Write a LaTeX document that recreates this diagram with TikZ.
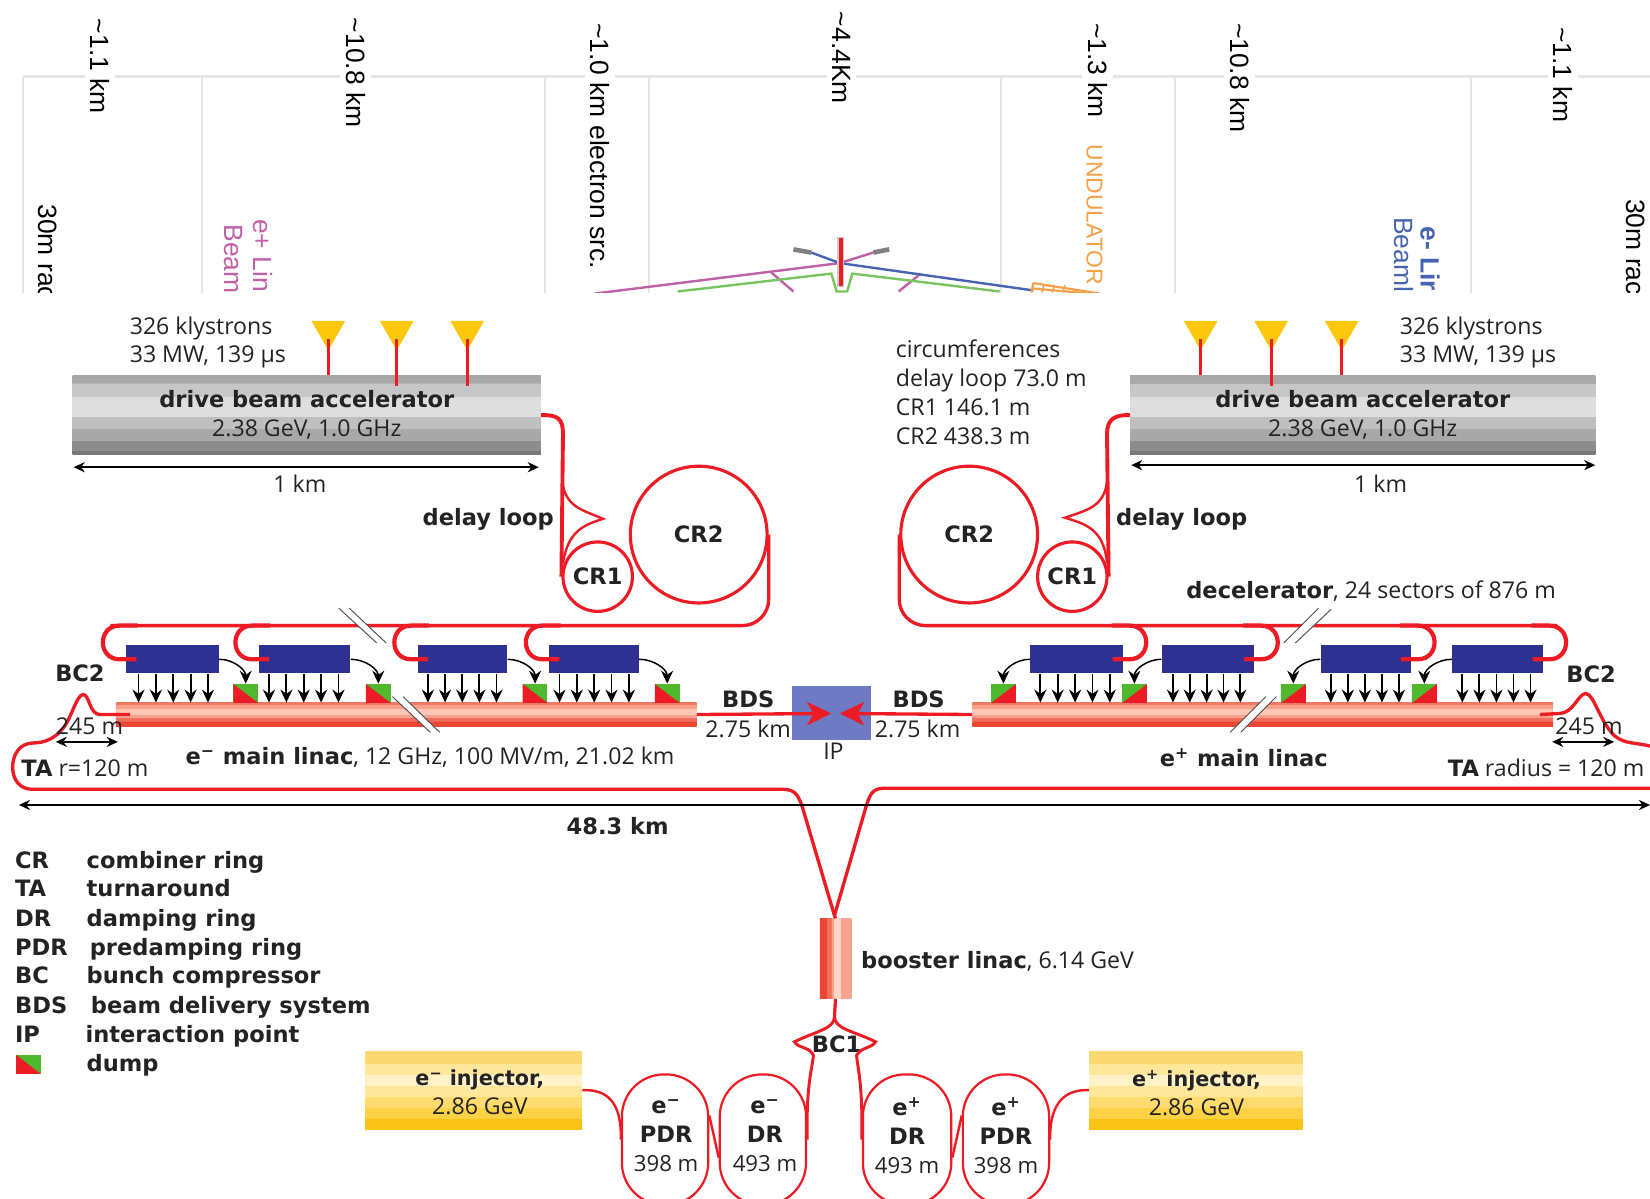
\documentclass[tikz,border=0pt]{standalone}
\usepackage{fontspec}
\setmainfont{Open Sans}
\newfontfamily\topfont{Liberation Sans}
\newfontfamily\strongfont{DejaVu Sans}
\usetikzlibrary{arrows.meta,calc,shapes.geometric}
\definecolor{beamred}{RGB}{237,28,36}
\definecolor{sectorblue}{RGB}{46,49,146}
\definecolor{dumpgreen}{RGB}{80,184,45}
\definecolor{klystroncolor}{RGB}{253,199,12}
\definecolor{ipcolor}{RGB}{110,123,196}
\definecolor{gridgrey}{RGB}{229,229,229}
\definecolor{textgrey}{RGB}{35,35,35}
\definecolor{pinkline}{RGB}{192,96,168}
\definecolor{greenline}{RGB}{120,196,96}
\definecolor{blueline}{RGB}{70,100,175}
\definecolor{orangeline}{RGB}{245,160,70}
\pgfdeclareverticalshading{greybands}{100bp}{
    gray(0bp)=(.47); gray(27.5bp)=(.47); gray(27.51bp)=(.55); gray(34bp)=(.55);
    gray(34.01bp)=(.66); gray(41.5bp)=(.66); gray(41.51bp)=(.75); gray(49bp)=(.75);
    gray(49.01bp)=(.87); gray(62bp)=(.87); gray(62.01bp)=(.78); gray(70.3bp)=(.78);
    gray(70.31bp)=(.66); gray(100bp)=(.66)}
\pgfdeclareverticalshading{yellowbands}{100bp}{
    rgb(0bp)=(.98,.76,.08); rgb(32bp)=(.98,.76,.08); rgb(32.01bp)=(.99,.82,.27); rgb(39bp)=(.99,.82,.27);
    rgb(39.01bp)=(1,.86,.44); rgb(46bp)=(1,.86,.44); rgb(46.01bp)=(1,.91,.61); rgb(53bp)=(1,.91,.61);
    rgb(53.01bp)=(1,.95,.78); rgb(60bp)=(1,.95,.78); rgb(60.01bp)=(1,.91,.61); rgb(67bp)=(1,.91,.61);
    rgb(67.01bp)=(.99,.85,.44); rgb(100bp)=(.99,.85,.44)}
\pgfdeclareverticalshading{linacbands}{100bp}{
    rgb(0bp)=(.93,.27,.2); rgb(36bp)=(.93,.27,.2); rgb(36.01bp)=(.95,.43,.36); rgb(44bp)=(.95,.43,.36);
    rgb(44.01bp)=(.98,.63,.55); rgb(51bp)=(.98,.63,.55); rgb(51.01bp)=(.99,.78,.71); rgb(62bp)=(.99,.78,.71);
    rgb(62.01bp)=(.98,.63,.55); rgb(71bp)=(.98,.63,.55); rgb(71.01bp)=(.95,.47,.4); rgb(100bp)=(.95,.47,.4)}
\pgfdeclarehorizontalshading{boosterbands}{100bp}{
    rgb(0bp)=(.93,.27,.2); rgb(36bp)=(.93,.27,.2); rgb(36.01bp)=(.95,.43,.36); rgb(43bp)=(.95,.43,.36);
    rgb(43.01bp)=(.98,.63,.55); rgb(47bp)=(.98,.63,.55); rgb(47.01bp)=(.99,.84,.78); rgb(58bp)=(.99,.84,.78);
    rgb(58.01bp)=(.97,.64,.56); rgb(100bp)=(.97,.64,.56)}
\newcommand{\strongtext}{\strongfont\bfseries\fontsize{12.2}{15.8}\selectfont}
\tikzset{
    plainlabel/.style={inner sep=0pt, text=textgrey, align=center, font=\fontsize{12.5}{15.6}\selectfont},
    strong/.style={plainlabel, font=\strongtext},
    toplabel/.style={rotate=-90, fill=white, inner xsep=1pt, inner ysep=3pt, text=black, font=\topfont\fontsize{14.3}{16}\selectfont},
    sidelabel/.style={rotate=-90, inner sep=0pt, anchor=west, font=\topfont\fontsize{14.3}{16}\selectfont},
    gridline/.style={draw=gridgrey, line width=1.1pt},
    sketchline/.style={line width=1.3pt},
    drivebox/.style={shade, shading=greybands, minimum width=8.9cm, minimum height=1.5cm, inner sep=0pt, align=center, text=textgrey, font=\fontsize{12.5}{15.8}\selectfont},
    injectorbox/.style={shade, shading=yellowbands, minimum width=4.12cm, minimum height=1.48cm, inner sep=0pt},
    sectorbox/.style={fill=sectorblue, minimum height=0.54cm, inner sep=0pt},
    linac/.style={shade, shading=linacbands, minimum height=0.44cm, inner sep=0pt},
    booster/.style={shade, shading=boosterbands, minimum width=0.6cm, minimum height=1.52cm, inner sep=0pt},
    dumpE/.style={fill=dumpgreen, minimum width=0.47cm, minimum height=0.36cm, inner sep=0pt,
        path picture={\fill[beamred] (path picture bounding box.north west) -- (path picture bounding box.south east) -- (path picture bounding box.south west) -- cycle;}},
    dumpP/.style={fill=beamred, minimum width=0.47cm, minimum height=0.36cm, inner sep=0pt,
        path picture={\fill[dumpgreen] (path picture bounding box.north west) -- (path picture bounding box.north east) -- (path picture bounding box.south west) -- cycle;}},
    beam/.style={draw=beamred, line width=1.8pt},
    feed/.style={draw=beamred, line width=2.3pt, looseness=1.7},
    thinbeam/.style={draw=beamred, line width=1.3pt},
    ring/.style={circle, draw=beamred, line width=1.7pt, inner sep=0pt, text=textgrey, font=\strongtext},
    dampring/.style={rectangle, rounded corners=0.8cm, draw=beamred, line width=1.2pt, minimum height=2.48cm, inner sep=0pt},
    stem/.style={draw=beamred, line width=1.6pt},
    klystron/.style={fill=klystroncolor},
    kick/.style={-{Stealth[length=7pt,width=6.5pt]}, draw=black, line width=1pt},
    dimarrow/.style={{Stealth[length=6pt,width=5.5pt]}-{Stealth[length=6pt,width=5.5pt]}, draw=black, line width=0.8pt},
    breakmark/.style={draw=black!70, line width=0.5pt}
}
\newcommand{\eminus}{e\textsuperscript{−}}
\newcommand{\eplus}{e\textsuperscript{+}}
\begin{document}
\begin{tikzpicture}[x=0.02cm,y=-0.02cm]
    \useasboundingbox (0,0) rectangle (1568,1139);
    \clip (0,0) rectangle (1568,1139);

    % Tunnel sketch at the top
    \begin{scope}
        \clip (0,0) rectangle (1568,278);
        \draw[gridline, line width=1.5pt] (22,73) -- (1568,73);
        \foreach \x in {22,192,518,617,951,1117,1398}
            \draw[gridline] (\x,73) -- (\x,278);
        \draw[pinkline, sketchline] (565,279) -- (798,250) -- (830,240);
        \draw[pinkline, sketchline] (733,259) -- (754,277);
        \draw[pinkline, sketchline] (875,260) -- (854,277);
        \draw[greenline, sketchline] (644,277) -- (790,260) -- (795,277) -- (805,277) -- (810,260) -- (950,277);
        \draw[blueline, sketchline] (771,240) -- (798,250) -- (982,276);
        \draw[gray, line width=2.5pt] (754,237) -- (771,240);
        \draw[gray, line width=2.5pt] (830,240) -- (845,237);
        \draw[gray!40, line width=3.6pt] (799,225) -- (799,273);
        \draw[beamred, line width=2.2pt] (799,226) -- (799,272);
        \draw[orangeline, line width=1.2pt] (982,269) -- (1045,279);
        \draw[orangeline, line width=1.2pt] (982,269) -- (980,278);
        \draw[orangeline, line width=1.2pt] (981,274) -- (1035,279);
        \foreach \x in {992,1002,1012}
            \draw[orangeline, line width=0.8pt] (\x,271) -- (\x-2,278);
        % Lengths
        \node[toplabel] (lenA) at (95,63) {\textasciitilde1.1 km};
        \node[toplabel] (lenB) at (338,69) {\textasciitilde10.8 km};
        \node[toplabel] (lenC) at (570,139) {\textasciitilde1.0 km electron src.};
        \node[toplabel] (lenD) at (800,55) {\textasciitilde4.4Km};
        \node[toplabel] (lenE) at (1043,67) {\textasciitilde1.3 km};
        \node[toplabel] (lenF) at (1178,74) {\textasciitilde10.8 km};
        \node[toplabel] (lenG) at (1485,71) {\textasciitilde1.1 km};
        \node[sidelabel] (radL) at (45,194) {30m rac};
        \node[sidelabel] (radR) at (1554,189) {30m rac};
        \node[sidelabel, text=pinkline] (linP) at (250,208) {e+ Lin};
        \node[sidelabel, text=pinkline] (beaP) at (222,213) {Beam};
        \node[sidelabel, text=orangeline, font=\topfont\fontsize{12.4}{14}\selectfont] (und) at (1040,137) {UNDULATOR};
        \node[sidelabel, text=blueline, font=\topfont\fontsize{14.3}{16}\selectfont\bfseries] (linE) at (1359,215) {e- Lir};
        \node[sidelabel, text=blueline] (beaE) at (1334,206) {Beaml};
    \end{scope}

    % Drive beam
    \node[drivebox] (drivebeamL) at (291.5,394.5) {{\strongtext drive beam accelerator}\\2.38 GeV, 1.0 GHz};
    \node[drivebox, minimum width=8.84cm] (drivebeamR) at (1295,394.5) {{\strongtext drive beam accelerator}\\2.38 GeV, 1.0 GHz};
    \foreach \n/\x/\e in {L1/312/0,L2/377/10,L3/444/10,R1/1141/0,R2/1208/10,R3/1275/0}{
        \coordinate (kly\n) at (\x,322);
        \fill[klystron] (\x-16,305) -- (\x+16,305) -- (\x,333) -- cycle;
        \draw[stem] (kly\n) -- ($(kly\n |- drivebeamL.north)+(0,\e)$);
    }
    \node[plainlabel, anchor=west, align=left] (klystextL) at (123,325.5) {326 klystrons\\33 MW, 139 µs};
    \node[plainlabel, anchor=west, align=left] (klystextR) at (1330,325.5) {326 klystrons\\33 MW, 139 µs};
    \node[plainlabel, anchor=west, align=left] (circum) at (851,373) {circumferences\\delay loop 73.0 m\\CR1 146.1 m\\CR2 438.3 m};

    % One km arrows
    \coordinate (oneLa) at (70,444);
    \coordinate (oneLb) at (512,444);
    \coordinate (oneRa) at (1075,442);
    \coordinate (oneRb) at (1516,442);
    \draw[dimarrow] (oneLa) -- (oneLb);
    \draw[dimarrow] (oneRa) -- (oneRb);
    \node[plainlabel] (oneL) at (285,460) {1 km};
    \node[plainlabel] (oneR) at (1312,460) {1 km};

    % Combiner rings
    \node[ring, minimum size=1.32cm] (crL1) at (568,548) {CR1};
    \node[ring, minimum size=2.6cm] (crL2) at (664,508) {CR2};
    \node[ring, minimum size=1.32cm] (crR1) at (1019,548) {CR1};
    \node[ring, minimum size=2.6cm] (crR2) at (921,508) {CR2};
    \coordinate (delayL) at (573,493);
    \coordinate (delayR) at (1012,492);
    \draw[beam, line width=2.1pt] (drivebeamL.east) .. controls (530,394) and (535,398) .. (535,412) -- (crL1.west);
    \draw[beam, line width=2.1pt] (drivebeamR.west) .. controls (1060,394) and (1052,398) .. (1052,412) -- (crR1.east);
    \draw[thinbeam] (535,462) .. controls (540,483) and (555,485) .. (delayL) .. controls (555,499) and (540,504) .. (535,535);
    \draw[thinbeam] (1052,458) .. controls (1049,482) and (1032,485) .. (delayR) .. controls (1032,498) and (1049,503) .. (1052,535);
    \node[strong] (delaytextL) at (464,494) {delay loop};
    \node[strong] (delaytextR) at (1123,494) {delay loop};

    % Decelerator sectors
    \node[sectorbox, minimum width=1.76cm] (sectorL1) at (164,626.5) {};
    \node[sectorbox, minimum width=1.74cm] (sectorL2) at (289.5,626.5) {};
    \node[sectorbox, minimum width=1.70cm] (sectorL3) at (439.5,626.5) {};
    \node[sectorbox, minimum width=1.70cm] (sectorL4) at (564.5,626.5) {};
    \node[sectorbox, minimum width=1.76cm] (sectorR1) at (1023,626.5) {};
    \node[sectorbox, minimum width=1.76cm] (sectorR2) at (1148,626.5) {};
    \node[sectorbox, minimum width=1.72cm] (sectorR3) at (1298,626.5) {};
    \node[sectorbox, minimum width=1.72cm] (sectorR4) at (1423,626.5) {};

    % Main linacs
    \node[linac, minimum width=11.04cm] (linacL) at (386,679) {};
    \node[linac, minimum width=11.04cm] (linacR) at (1200,679) {};

    % Dumps
    \node[dumpE] (dumpL1) at (233.5,659) {};
    \node[dumpE] (dumpL2) at (359.5,659) {};
    \node[dumpE] (dumpL3) at (508.5,659) {};
    \node[dumpE] (dumpL4) at (634,659) {};
    \node[dumpP] (dumpR1) at (953.5,659) {};
    \node[dumpP] (dumpR2) at (1078,659) {};
    \node[dumpP] (dumpR3) at (1229,659) {};
    \node[dumpP] (dumpR4) at (1353.5,659) {};

    % Power extraction arrows
    \foreach \n/\off/\st in {L1/12/16.5,L2/10/16.5,L3/10/16.3,L4/10/16.5,R1/10/16.5,R2/11/16,R3/10/16.2,R4/10/16.2}{
        \foreach \k in {0,...,4}{
            \coordinate (top) at ($(sector\n.south west)+(\off+\st*\k,0)$);
            \draw[kick] (top) -- (top |- linacL.north);
        }
    }
    \foreach \n in {1,...,4}{
        \draw[kick, line width=0.8pt] (sectorL\n.east) to[out=0,in=90] (dumpL\n.north);
        \draw[kick, line width=0.8pt] (sectorR\n.west) to[out=180,in=90] (dumpR\n.north);
    }

    % Feed lines
    \coordinate (rowL) at (105,594.5);
    \coordinate (rowR) at (1480,594.5);
    \draw[beam, rounded corners=0.5cm] (crL2.east) |- (rowL);
    \draw[beam, rounded corners=0.5cm] (crR2.west) |- (rowR);
    \foreach \n in {1,...,4}{
        \draw[feed] ($(sectorL\n.west)+(10,0)$) -- ++(-16,0) to[out=180,in=180] ++(0,-32) -- ++(17,0);
        \draw[feed] ($(sectorR\n.east)+(-10,0)$) -- ++(16,0) to[out=0,in=0] ++(0,-32) -- ++(-17,0);
    }

    % Break marks
    \foreach \a/\b/\c/\d/\e/\f/\g/\h/\cn in {322/578/358/611/332/578/367/611/A,373/662/409/696/383/662/418/696/B,1253/578/1220/611/1265/579/1231/611/C,1203/662/1169/696/1213/662/1179/696/D}{
        \coordinate (mark\cn a) at (\a,\b);
        \coordinate (mark\cn b) at (\c,\d);
        \coordinate (mark\cn c) at (\e,\f);
        \coordinate (mark\cn d) at (\g,\h);
        \fill[white] (mark\cn a) -- (mark\cn b) -- (mark\cn d) -- (mark\cn c) -- cycle;
        \draw[breakmark] (mark\cn a) -- (mark\cn b);
        \draw[breakmark] (mark\cn c) -- (mark\cn d);
    }

    % Beam delivery
    \node[fill=ipcolor, minimum width=1.5cm, minimum height=1.02cm, inner sep=0pt] (ipbox) at (790.5,677.5) {};
    \coordinate (ipL) at (790,678);
    \coordinate (ipR) at (798,678);
    \draw[-{Stealth[length=0.46cm,width=0.44cm,inset=0.12cm]}, beam] (linacL.east) -- (ipL);
    \draw[-{Stealth[length=0.46cm,width=0.44cm,inset=0.12cm]}, beam] (linacR.west) -- (ipR);
    \node[strong] (bdsL) at (711,665) {BDS};
    \node[strong] (bdsR) at (873,665) {BDS};
    \node[plainlabel] (bdslenL) at (711,693) {2.75 km};
    \node[plainlabel] (bdslenR) at (872,693) {2.75 km};
    \node[plainlabel] (iptext) at (792,714) {IP};

    % Booster and turnarounds
    \node[booster] (boost) at (794,911) {};
    \coordinate (apex) at (793,870);
    \draw[beam] ($(linacL.west)+(14,0)$) -- (95,679) .. controls (85,679) and (85,660) .. (79,660) .. controls (73,660) and (68,682) .. (60,692) .. controls (52,702) and (42,706) .. (32,706) .. controls (18,706) and (12,718) .. (12,729) .. controls (12,742) and (20,750) .. (30,750) -- (740,750) .. controls (755,750) and (758,752) .. (764,772) -- (apex);
    \draw[beam] ($(linacR.east)+(-13,0)$) -- (1482,678) .. controls (1495,678) and (1500,659) .. (1507,659) .. controls (1515,660) and (1520,685) .. (1534,699) .. controls (1545,708) and (1555,705) .. (1572,710) (1572,749) -- (842,749) .. controls (830,749) and (827,752) .. (822,770) -- (apex);
    \draw[beam] (apex) -- (boost.north);
    \coordinate (bcsplit) at (793,966);
    \node[strong] (bcone) at (795,992) {BC1};
    \node[strong] (bctwoL) at (76,640) {BC2};
    \node[strong] (bctwoR) at (1512,641) {BC2};
    \node[plainlabel] (shortL) at (85,690) {245 m};
    \node[plainlabel] (shortR) at (1510,690) {245 m};
    \coordinate (shortLa) at (53,705);
    \coordinate (shortLb) at (112,705);
    \coordinate (shortRa) at (1475,705);
    \coordinate (shortRb) at (1534,705);
    \draw[dimarrow] (shortLa) -- (shortLb);
    \draw[dimarrow] (shortRa) -- (shortRb);
    \node[plainlabel, anchor=west] (taL) at (20,730) {{\strongtext TA} r=120 m};
    \node[plainlabel, anchor=east] (taR) at (1563,730) {{\strongtext TA} radius = 120 m};
    \node[plainlabel, anchor=west] (linactextL) at (176,720) {{\strongtext \eminus\ main linac}, 12 GHz, 100 MV/m, 21.02 km};
    \node[strong] (linactextR) at (1182,720) {\eplus\ main linac};
    \node[plainlabel, anchor=west] (decel) at (1127,562) {{\strongtext decelerator}, 24 sectors of 876 m};
    \coordinate (totalL) at (18,765);
    \coordinate (totalR) at (1568,765);
    \draw[dimarrow] (totalL) -- (totalR);
    \node[strong] (totaltext) at (587,785) {48.3 km};
    \node[plainlabel, anchor=west] (boosttext) at (818,914) {{\strongtext booster linac}, 6.14 GeV};

    % Legend
    \foreach \yy/\a/\xx/\b in {818/CR/82/combiner ring,845/TA/82/turnaround,873/DR/82/damping ring,901/PDR/85/predamping ring,928/BC/82/bunch compressor,956/BDS/86/beam delivery system,984/IP/81/interaction point}{
        \node[strong, anchor=base west] (key\a) at (14,\yy+7) {\a};
        \node[strong, anchor=base west] (text\a) at (\xx,\yy+7) {\b};
    }
    \node[dumpE] (keydump) at (27,1011.5) {};
    \node[strong, anchor=base west] (textdump) at (82,1018) {dump};

    % Injectors and damping rings
    \node[injectorbox] (injE) at (450,1036) {};
    \node[injectorbox, minimum width=4.06cm] (injP) at (1136.5,1036) {};
    \node[plainlabel] (injEtext) at (456,1038) {{\strongtext\fontsize{11.2}{15.8}\selectfont \eminus\ injector,}\\2.86 GeV};
    \node[plainlabel] (injPtext) at (1137,1039) {{\strongtext\fontsize{11.2}{15.8}\selectfont \eplus\ injector,}\\2.86 GeV};
    \node[dampring, minimum width=1.64cm] (pdrE) at (632,1083) {};
    \node[dampring, minimum width=1.64cm] (drE) at (725,1083) {};
    \node[dampring, minimum width=1.68cm] (drP) at (862,1083) {};
    \node[dampring, minimum width=1.64cm] (pdrP) at (956,1083) {};
    \node[strong] (pdrEtext) at (633,1079) {\eminus\\PDR\\{\normalfont\fontsize{12}{15.6}\selectfont 398 m}};
    \node[strong] (drEtext) at (727,1079) {\eminus\\DR\\{\normalfont\fontsize{12}{15.6}\selectfont 493 m}};
    \node[strong] (drPtext) at (862,1079) {\eplus\\DR\\{\normalfont\fontsize{12}{15.6}\selectfont 493 m}};
    \node[strong] (pdrPtext) at (956,1079) {\eplus\\PDR\\{\normalfont\fontsize{12}{15.6}\selectfont 398 m}};
    \draw[thinbeam] (injE.east) .. controls (575,1035) and (591,1045) .. (pdrE.west);
    \draw[thinbeam] (injP.west) .. controls (1015,1035) and (997,1045) .. (pdrP.east);
    \draw[thinbeam] ($(pdrE.east)+(0,-23)$) -- ($(drE.west)+(0,17)$);
    \draw[thinbeam] ($(drP.east)+(0,17)$) -- ($(pdrP.west)+(0,-23)$);
    \draw[thinbeam, line width=1.6pt] (boost.south) -- (bcsplit) .. controls (793,978) and (775,980) .. (755,990) .. controls (758,996) and (770,995) .. (773,1003) .. controls (772,1015) and (766,1030) .. (drE.east);
    \draw[thinbeam, line width=1.6pt] (boost.south) -- (bcsplit) .. controls (793,978) and (812,980) .. (832,990) .. controls (829,996) and (818,995) .. (814,1003) .. controls (815,1015) and (820,1030) .. (drP.west);
\end{tikzpicture}
\end{document}
